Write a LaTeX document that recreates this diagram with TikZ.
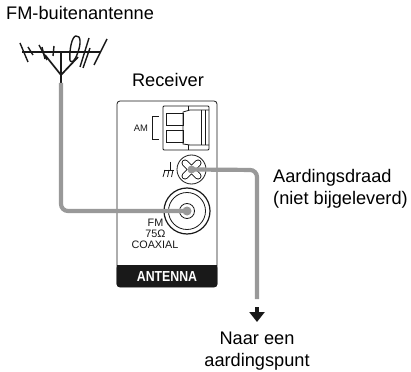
\documentclass[tikz,border=0pt]{standalone}
\usepackage{fontspec}
\setmainfont{Liberation Sans}
\usetikzlibrary{arrows.meta}
\definecolor{wire}{gray}{0.6}
\definecolor{ink}{gray}{0.1}
\tikzset{
 lbl/.style={inner sep=0pt,font=\fontsize{18.2}{22}\selectfont,align=center},
 small/.style={inner sep=0pt,font=\fontsize{10.8}{11}\selectfont,anchor=base,text=ink},
 ant/.style={draw=ink,line width=1.4pt},
 part/.style={draw=ink,line width=0.8pt},
 wirel/.style={draw=wire,line width=4.2pt,rounded corners=7pt},
}
\begin{document}
\begin{tikzpicture}[x=1pt,y=-1pt]
\useasboundingbox (0,0) rectangle (411,371);
% labels
\node[lbl,anchor=base west] (fm) at (6,20) {FM-buitenantenne};
\node[lbl,anchor=base] (rc) at (168,87) {Receiver};
\node[lbl,anchor=west,align=left] (ad) at (273,189) {Aardingsdraad\\(niet bijgeleverd)};
\node[lbl] (np) at (257,351) {Naar een\\aardingspunt};
% antenna
\draw[ant] (22,52) -- (100,52);
\draw[ant] (20,43) -- (28,62);
\draw[ant] (28,47) -- (33,55);
\draw[ant] (39,45) -- (47,60);
\draw[ant] (42,47) -- (45,59);
\draw[ant] (54,46) -- (53,56);
\draw[ant] (107,39) -- (94,65);
\draw[ant] (89,38) -- (80,67);
\draw[ant] (90,48) -- (83,68);
\draw[ant] (61,52) -- (61,83);
\draw[ant,line width=1.7pt] (45,55) -- (61,75) -- (78,57);
\draw[ant] (70,61) .. controls (69,50) and (72,36) .. (76,36) .. controls (81,35) and (81,44) .. (78,52) .. controls (76,58) and (73,64) .. (70,61);
% panel
\draw[part,fill=white,rounded corners=3pt] (117,101) rectangle (217,287);
\fill[ink,rounded corners=3pt] (116.6,265) -- (217.4,265) -- (217.4,287) -- (116.6,287) -- cycle;
\fill[ink] (116.6,265) rectangle (217.4,272);
\node[inner sep=0pt,font=\fontsize{14.5}{16}\selectfont\bfseries,text=white] (an) at (167,276.5) {\scalebox{.85}[1]{ANTENNA}};
% AM terminal
\draw[part,rounded corners=1pt] (163,106) rectangle (209,150);
\draw[part] (166,113) rectangle (183,125);
\draw[part] (166,130) rectangle (183,142);
\draw[part] (183,112) -- (190,110) -- (209,110) (209,145) -- (190,145) -- (183,144) -- (183,112);
\draw[part] (201,110) -- (201,145);
\draw[part] (205,110) -- (205,145);
\draw[part] (188,106) -- (188,110);
\draw[part] (188,145) -- (188,150);
\node[inner sep=0pt,font=\fontsize{9.4}{10}\selectfont,text=ink] (am) at (141,128) {AM};
\draw[part] (159,116) -- (152,116) -- (152,139) -- (159,139);
% ground symbol
\draw[part] (164,170) -- (174,170);
\draw[part] (170,162) -- (170,170);
\draw[part] (165,170) -- (163,177);
\draw[part] (169,170) -- (167.5,177);
\draw[part] (173,170) -- (171.5,177);
% screw
\node[draw=ink,line width=0.8pt,circle,minimum size=29pt,inner sep=0pt,fill=white] (screw) at (191.5,169.5) {};
\draw[ink,line width=7pt,line cap=round] (185,163) -- (198,176) (198,163) -- (185,176);
\draw[white,line width=5pt,line cap=round] (185,163) -- (198,176) (198,163) -- (185,176);
% coax
\node[draw=ink,line width=1.2pt,circle,minimum size=46pt,inner sep=0pt,fill=white] (coax) at (187,211) {};
\node[draw=ink,line width=0.8pt,circle,minimum size=37pt,inner sep=0pt] (coaxb) at (187,211) {};
\node[draw=ink,line width=0.8pt,circle,minimum size=15pt,inner sep=0pt] (coaxc) at (187,211) {};
% wires
\coordinate (t1) at (61,83);
\coordinate (c1) at (61,211);
\draw[wirel] (t1) -- (c1) -- (coax.center);
\fill[wire] (coax.center) circle (4.5pt);
\coordinate (g1) at (257,170);
\coordinate (g2) at (257,299);
\draw[wirel] (screw.center) -- (g1) -- (g2);
\fill[wire] (screw.center) circle (4pt);
% arrow
\coordinate (a1) at (257,307);
\coordinate (a2) at (257,322);
\draw[ink,line width=4pt,-{Triangle[length=10pt,width=15pt]}] (a1) -- (a2);
% FM text
\node[small] (t75) at (155.5,226.5) {FM};
\node[small] (t76) at (155.5,237.5) {75Ω};
\node[small] (t77) at (155,248.5) {COAXIAL};
\end{tikzpicture}
\end{document}
